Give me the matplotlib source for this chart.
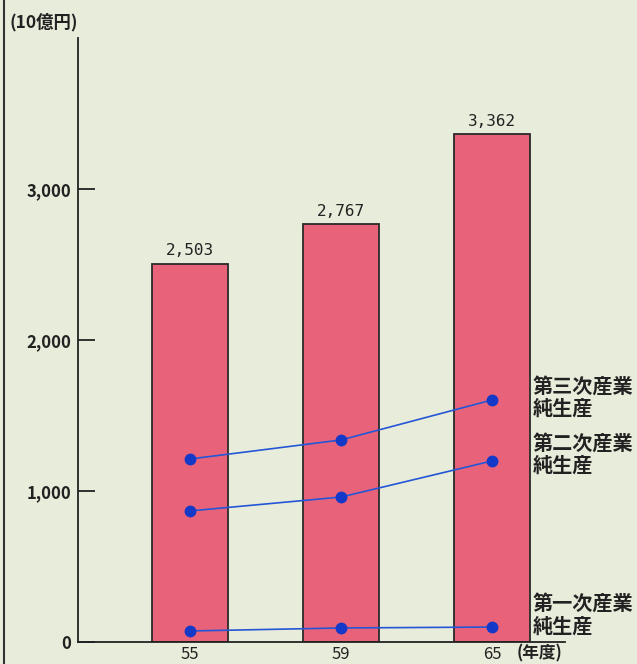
import matplotlib
matplotlib.use("Agg")
import matplotlib.pyplot as plt
from matplotlib.lines import Line2D

plt.rcParams['font.family'] = ['Noto Sans CJK JP', 'DejaVu Sans']

# data (10億円)
years = ['55', '59', '65']
total = [2503, 2767, 3362]
tertiary = [1212, 1338, 1603]
secondary = [868, 960, 1199]
primary = [73, 93, 99]
series_labels = ['第三次産業\n純生産', '第二次産業\n純生産', '第一次産業\n純生産']
yticks = [0, 1000, 2000, 3000]

bg = '#e8ecda'
bar_col = '#e8637a'
line_col = '#2456d6'
dot_col = '#1438c8'
ink = '#222222'

fig = plt.figure(figsize=(6.37, 6.64), dpi=100, facecolor=bg)
ax = fig.add_axes([78 / 637, 22 / 664, 487 / 637, 604 / 664])
ax.set_facecolor(bg)

x = list(range(len(years)))
ax.bar(x, total, width=0.5, color=bar_col, edgecolor='#2a2a2a', linewidth=1.3, zorder=2)
for xi, v in zip(x, total):
    ax.annotate(f'{v:,}', (xi, v), xytext=(0, 4), textcoords='offset points',
                ha='center', va='bottom', fontsize=11.5, color=ink,
                family='DejaVu Sans Mono')

# series labels sit to the right of the last point, nudged up a little
for vals, lab, dy in zip([tertiary, secondary, primary], series_labels, [2, 5, 9]):
    ax.plot(x, vals, color=line_col, linewidth=1.2, zorder=3)
    ax.plot(x, vals, 'o', color=dot_col, markersize=7.5, zorder=4)
    ax.annotate(lab, (x[-1], vals[-1]), xytext=(29, dy), textcoords='offset points',
                ha='left', va='center', fontsize=14.5, fontweight='bold', color=ink,
                linespacing=1.1, annotation_clip=False)

ax.set_xlim(-0.742, 2.483)
ax.set_ylim(0, 4000)

for s in ['top', 'right']:
    ax.spines[s].set_visible(False)
for s in ['left', 'bottom']:
    ax.spines[s].set_color(ink)
    ax.spines[s].set_linewidth(1.3)

ax.set_yticks(yticks)
ax.set_yticklabels([f'{t:,}' for t in yticks], fontsize=12, color=ink, fontweight='bold')
ax.tick_params(axis='y', direction='in', length=12, width=1.3, color=ink, pad=5)
ax.set_xticks(x)
ax.set_xticklabels(years, fontsize=12, color=ink)
ax.tick_params(axis='x', length=0, pad=3)

# unit of the x axis, next to the last year
ax.annotate('(年度)', (2, 0), xytext=(18, -2), textcoords='offset points',
            ha='left', va='top', fontsize=12, color=ink, fontweight='bold',
            annotation_clip=False)

fig.text(44 / 637, 1 - 22 / 664, '(10億円)', ha='center', va='center',
         fontsize=12.5, color=ink, fontweight='bold')

# frame line on the left edge
fig.add_artist(Line2D([4 / 637, 4 / 637], [0, 1], transform=fig.transFigure,
                      color='#333333', linewidth=1.5))

fig.savefig('out.png', dpi=100, facecolor=bg)
